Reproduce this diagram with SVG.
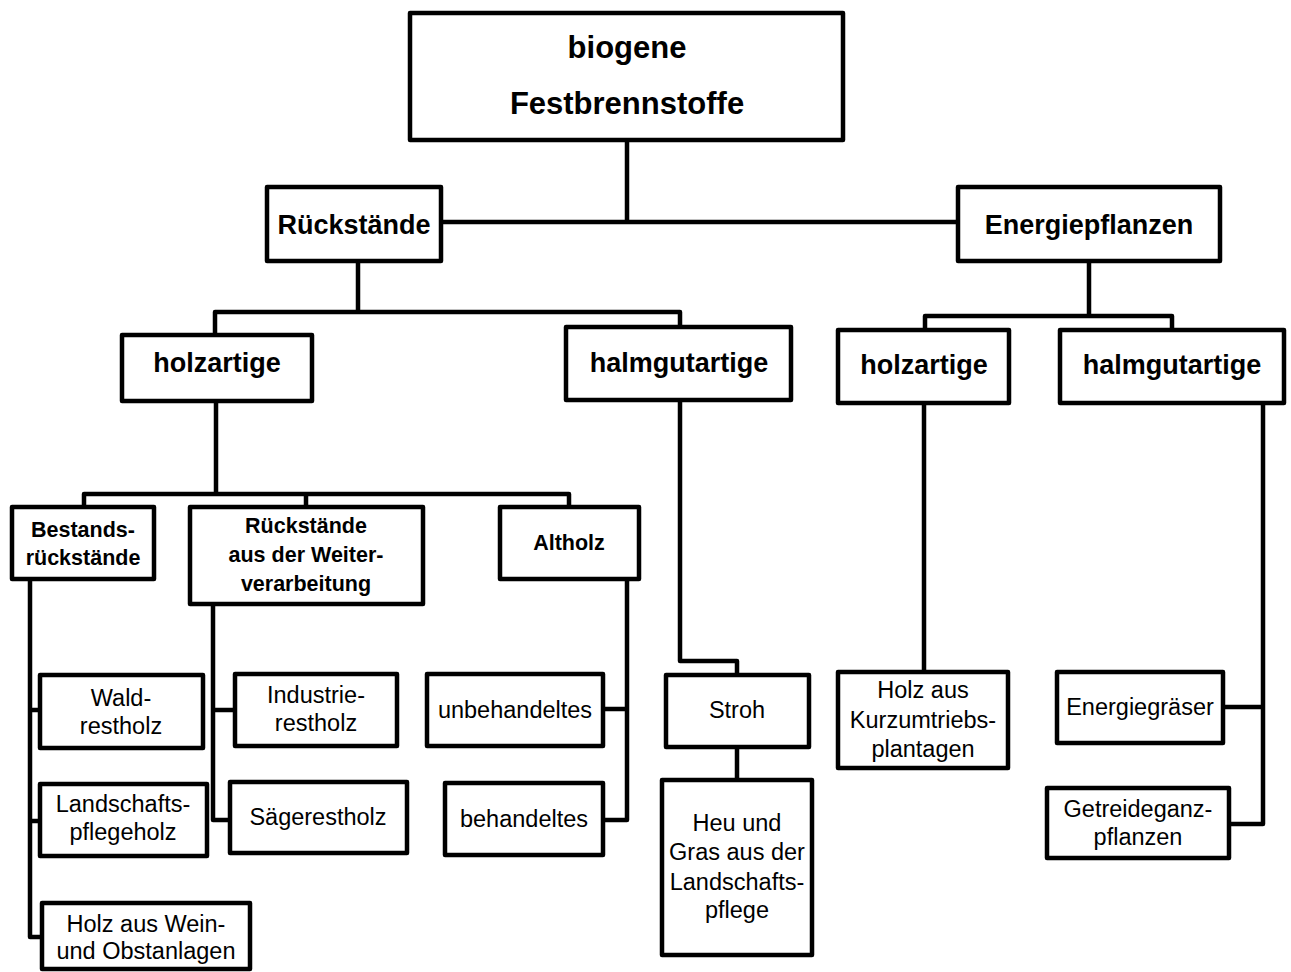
<svg xmlns="http://www.w3.org/2000/svg" width="1291" height="972" viewBox="0 0 1291 972">
<style>
rect{fill:#fff;stroke:#000;stroke-width:4.5;stroke-linejoin:round}
.c{fill:none;stroke:#000;stroke-width:4.5;stroke-linejoin:round}
text{font-family:"Liberation Sans",Arial,sans-serif;text-anchor:middle;fill:#000}
.b1{font-size:31px;font-weight:bold}
.b2{font-size:27px;font-weight:bold}
.b3{font-size:21.5px;font-weight:bold}
.r{font-size:23.5px}
</style>
<rect width="1291" height="972" style="fill:#fff;stroke:none"/>
<g id="connectors">
<path class="c" d="M627 140V222M441 222H957"/>
<path class="c" d="M358 261V312M215 335V312H680V327"/>
<path class="c" d="M1089 261V316M925 330V316H1172V330"/>
<path class="c" d="M216 401V494M84 507V494H569V507M306 494V507"/>
<path class="c" d="M30 579V937H42M30 710H40M30 821H40"/>
<path class="c" d="M213 604V820H230M213 710H235"/>
<path class="c" d="M627 579V820H603M627 709H603"/>
<path class="c" d="M680 400V661H737V675M737 747V780"/>
<path class="c" d="M924 403V672"/>
<path class="c" d="M1263 403V824H1229M1263 707H1223"/>
</g>
<g id="n-root"><rect x="410" y="13" width="433" height="127"/><text class="b1" x="627" y="58">biogene</text><text class="b1" x="627" y="114">Festbrennstoffe</text></g>
<g id="n-rueck"><rect x="267" y="187" width="174" height="74"/><text class="b2" x="354" y="234">Rückstände</text></g>
<g id="n-energie"><rect x="958" y="187" width="262" height="74"/><text class="b2" x="1089" y="234">Energiepflanzen</text></g>
<g id="n-holz1"><rect x="122" y="335" width="190" height="66"/><text class="b2" x="217" y="372">holzartige</text></g>
<g id="n-halm1"><rect x="566" y="327" width="225" height="73"/><text class="b2" x="679" y="372">halmgutartige</text></g>
<g id="n-holz2"><rect x="838" y="330" width="171" height="73"/><text class="b2" x="924" y="374">holzartige</text></g>
<g id="n-halm2"><rect x="1060" y="330" width="224" height="73"/><text class="b2" x="1172" y="374">halmgutartige</text></g>
<g id="n-bestand"><rect x="12" y="507" width="142" height="72"/><text class="b3" x="83" y="537">Bestands-</text><text class="b3" x="83" y="565">rückstände</text></g>
<g id="n-weiter"><rect x="190" y="507" width="233" height="97"/><text class="b3" x="306" y="533">Rückstände</text><text class="b3" x="306" y="562">aus der Weiter-</text><text class="b3" x="306" y="591">verarbeitung</text></g>
<g id="n-altholz"><rect x="500" y="507" width="139" height="72"/><text class="b3" x="569" y="550">Altholz</text></g>
<g id="n-wald"><rect x="40" y="675" width="163" height="73"/><text class="r" x="121" y="706">Wald-</text><text class="r" x="121" y="734">restholz</text></g>
<g id="n-landschaft"><rect x="40" y="784" width="167" height="72"/><text class="r" x="123" y="812">Landschafts-</text><text class="r" x="123" y="840">pflegeholz</text></g>
<g id="n-wein"><rect x="42" y="903" width="208" height="66"/><text class="r" x="146" y="932">Holz aus Wein-</text><text class="r" x="146" y="959">und Obstanlagen</text></g>
<g id="n-industrie"><rect x="235" y="674" width="162" height="72"/><text class="r" x="316" y="703">Industrie-</text><text class="r" x="316" y="731">restholz</text></g>
<g id="n-saege"><rect x="230" y="782" width="177" height="71"/><text class="r" x="318" y="825">Sägerestholz</text></g>
<g id="n-unbeh"><rect x="427" y="674" width="176" height="72"/><text class="r" x="515" y="718">unbehandeltes</text></g>
<g id="n-beh"><rect x="445" y="783" width="158" height="72"/><text class="r" x="524" y="827">behandeltes</text></g>
<g id="n-stroh"><rect x="666" y="675" width="143" height="72"/><text class="r" x="737" y="718">Stroh</text></g>
<g id="n-heu"><rect x="662" y="780" width="150" height="175"/><text class="r" x="737" y="831">Heu und</text><text class="r" x="737" y="860">Gras aus der</text><text class="r" x="737" y="890">Landschafts-</text><text class="r" x="737" y="918">pflege</text></g>
<g id="n-kurz"><rect x="838" y="672" width="170" height="96"/><text class="r" x="923" y="698">Holz aus</text><text class="r" x="923" y="728">Kurzumtriebs-</text><text class="r" x="923" y="757">plantagen</text></g>
<g id="n-graeser"><rect x="1057" y="672" width="166" height="71"/><text class="r" x="1140" y="715">Energiegräser</text></g>
<g id="n-getreide"><rect x="1047" y="788" width="182" height="70"/><text class="r" x="1138" y="817">Getreideganz-</text><text class="r" x="1138" y="845">pflanzen</text></g>
</svg>
